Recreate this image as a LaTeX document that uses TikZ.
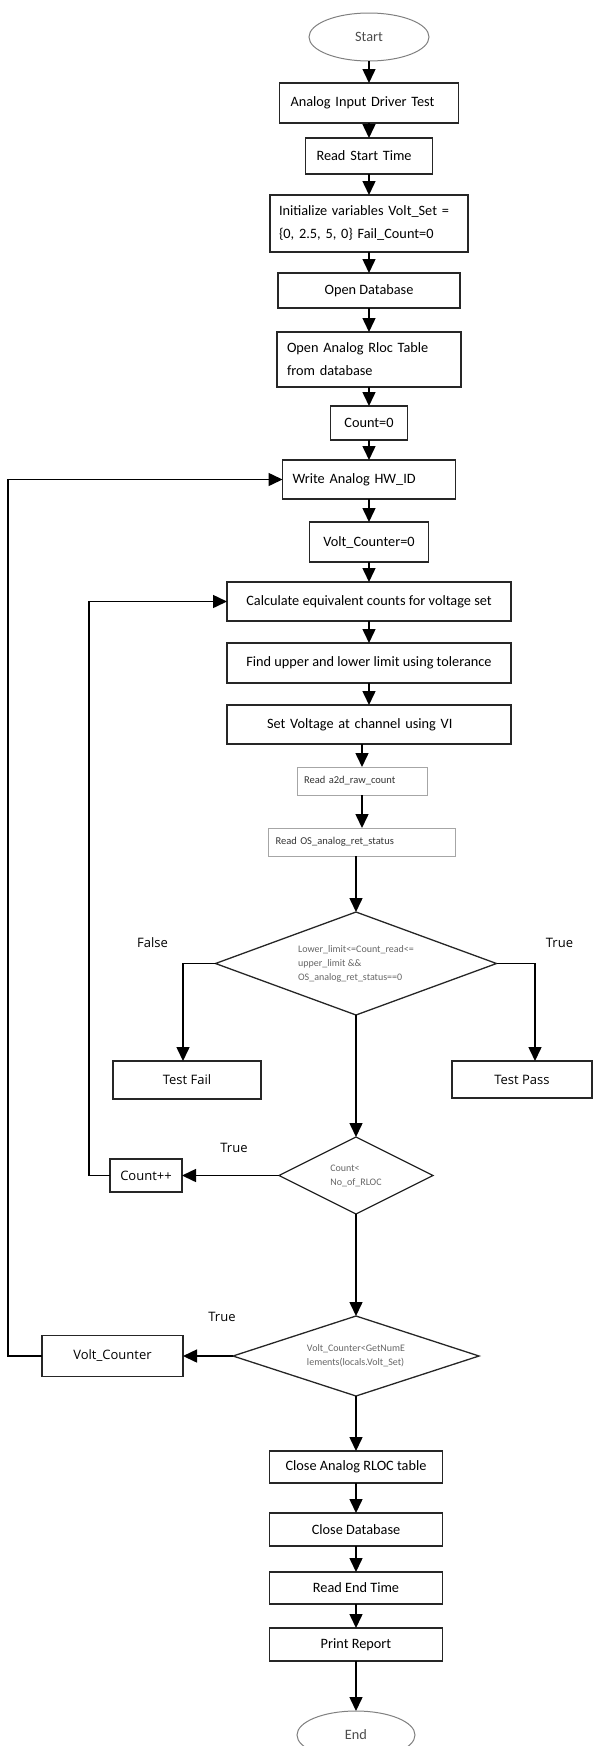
\documentclass[tikz,border=0pt]{standalone}
\usepackage{fontspec}
\usepackage{tikz}
\usetikzlibrary{positioning, shapes.geometric, arrows.meta}
\newfontfamily\calibri{Carlito}
\newfontfamily\segoe{Open Sans}
\newcommand{\boxfont}{\calibri\fontsize{14.3pt}{23pt}\selectfont}
\newcommand{\smallfont}{\calibri\fontsize{10.5pt}{14pt}\selectfont}
\newcommand{\condfont}{\calibri\fontsize{10pt}{14pt}\selectfont}
\newcommand{\labelfont}{\segoe\fontsize{13pt}{16pt}\selectfont}
\tikzset{
	edge/.style={line width=1.5pt, -{Triangle[width=13pt,length=14pt]}},
	box/.style={
		rectangle,
		draw=black!85,
		line width=1.6pt,
		inner sep=0pt,
		outer sep=0pt,
		font=\boxfont,
		align=center
	},
	thin box/.style={
		rectangle,
		draw=black!35,
		line width=1pt,
		inner sep=0pt,
		outer sep=0pt,
		font=\smallfont,
		text=black!80,
		align=left
	},
	terminal/.style={
		ellipse,
		draw=black!50,
		line width=1pt,
		minimum width=120pt,
		minimum height=48pt,
		outer sep=0pt,
		font=\boxfont,
		text=black!70
	},
	decision/.style={
		diamond,
		draw=black!85,
		line width=1.3pt,
		inner sep=0pt,
		outer sep=0pt,
		font=\condfont,
		text=black!60,
		align=left
	},
	side box/.style={box, font=\labelfont},
	branch label/.style={font=\labelfont}
}

\begin{document}
\begin{tikzpicture}[x=1pt, y=1pt]
	\useasboundingbox (0,0) rectangle (593,-1746);

	\node[terminal] (start) at (369,-37) {Start};

	\node[box, minimum width=179pt, minimum height=40pt, text width=157pt, align=left, below=22pt of start] (drvtest) {Analog Input Driver Test};
	\draw[edge] (start) -- (drvtest);

	\node[box, minimum width=127pt, minimum height=36pt, text width=105pt, align=left, below=15pt of drvtest] (rdstart) {Read Start Time};
	\draw[edge] (drvtest) -- (rdstart);

	\node[box, minimum width=198pt, minimum height=57pt, text width=180pt, align=left, below=21pt of rdstart] (init) {Initialize variables Volt\_Set =\\\{0, 2.5, 5, 0\} Fail\_Count=0};
	\draw[edge] (rdstart) -- (init);

	\node[box, minimum width=182pt, minimum height=35pt, below=21pt of init] (opendb) {Open Database};
	\draw[edge] (init) -- (opendb);

	\node[box, minimum width=184pt, minimum height=55pt, text width=164pt, align=left, below=24pt of opendb] (openrloc) {Open Analog Rloc Table\\from database};
	\draw[edge] (opendb) -- (openrloc);

	\node[box, minimum width=77pt, minimum height=34pt, below=19pt of openrloc] (count0) {Count=0};
	\draw[edge] (openrloc) -- (count0);

	\node[box, minimum width=173pt, minimum height=39pt, text width=153pt, align=left, below=20pt of count0] (wrhwid) {Write Analog HW\_ID};
	\draw[edge] (count0) -- (wrhwid);

	\node[box, minimum width=119pt, minimum height=40pt, below=23pt of wrhwid] (volt0) {Volt\_Counter=0};
	\draw[edge] (wrhwid) -- (volt0);

	\node[box, minimum width=284pt, minimum height=39pt, below=20pt of volt0] (calc) {Calculate equivalent counts for voltage set};
	\draw[edge] (volt0) -- (calc);

	\node[box, minimum width=284pt, minimum height=40pt, below=22pt of calc] (limits) {Find upper and lower limit using tolerance};
	\draw[edge] (calc) -- (limits);

	\node[box, minimum width=284pt, minimum height=39pt, text width=204pt, align=left, below=22pt of limits] (setvolt) {Set Voltage at channel using VI};
	\draw[edge] (limits) -- (setvolt);

	\node[thin box, minimum width=130pt, minimum height=28pt, text width=116pt, below=23pt of setvolt, xshift=-7pt] (rda2d) {Read a2d\_raw\_count};
	\draw[edge] (rda2d.north |- setvolt.south) -- (rda2d.north);

	\node[thin box, minimum width=187pt, minimum height=28pt, text width=173pt, below=33pt of rda2d] (rdos) {Read OS\_analog\_ret\_status};
	\draw[edge] (rda2d) -- (rdos);

	\node[decision, aspect=2.7, minimum width=281pt, minimum height=103pt, below=56pt of rdos, xshift=-6pt] (chk) {Lower\_limit<=Count\_read<=\\upper\_limit \&\&\\OS\_analog\_ret\_status==0};
	\draw[edge] (chk.north |- rdos.south) -- (chk.north);

	\node[side box, minimum width=148pt, minimum height=38pt, below=46pt of chk, xshift=-169pt] (fail) {Test Fail};
	\draw[edge] (chk.west) -| ([xshift=-4pt]fail.north);
	\node[branch label] (falselbl) at ([xshift=-63pt, yshift=21pt]chk.west) {False};

	\node[side box, minimum width=140pt, minimum height=37pt, below=46pt of chk, xshift=166pt] (pass) {Test Pass};
	\draw[edge] (chk.east) -| ([xshift=13pt]pass.north);
	\node[branch label] (truelbl) at ([xshift=63pt, yshift=21pt]chk.east) {True};

	\node[decision, aspect=2, minimum width=154pt, minimum height=77pt, below=122pt of chk] (cntchk) {Count<\\No\_of\_RLOC};
	\draw[edge] (chk.south) -- (cntchk.north);

	\node[side box, minimum width=72pt, minimum height=33pt, left=97pt of cntchk] (cntinc) {Count++};
	\draw[edge] (cntchk.west) -- (cntinc.east);
	\draw[edge] (cntinc.west) -- ++(-21,0) |- (calc.west);
	\node[branch label] (cntlbl) at ([xshift=-45pt, yshift=28pt]cntchk.west) {True};

	\node[decision, aspect=3, minimum width=246pt, minimum height=80pt, below=102pt of cntchk] (voltchk) {Volt\_Counter<GetNumE\\lements(locals.Volt\_Set)};
	\draw[edge] (cntchk.south) -- (voltchk.north);

	\node[side box, minimum width=141pt, minimum height=41pt, left=50pt of voltchk] (voltinc) {Volt\_Counter};
	\draw[edge] (voltchk.west) -- (voltinc.east);
	\draw[edge] (voltinc.west) -- ++(-34,0) |- (wrhwid.west);
	\node[branch label] (voltlbl) at ([xshift=-11pt, yshift=39pt]voltchk.west) {True};

	\node[box, minimum width=173pt, minimum height=32pt, below=55pt of voltchk] (closerloc) {Close Analog RLOC table};
	\draw[edge] (voltchk.south) -- (closerloc.north);

	\node[box, minimum width=173pt, minimum height=33pt, below=30pt of closerloc] (closedb) {Close Database};
	\draw[edge] (closerloc) -- (closedb);

	\node[box, minimum width=173pt, minimum height=32pt, below=26pt of closedb] (rdend) {Read End Time};
	\draw[edge] (closedb) -- (rdend);

	\node[box, minimum width=173pt, minimum height=33pt, below=24pt of rdend] (report) {Print Report};
	\draw[edge] (rdend) -- (report);

	\node[terminal, minimum width=118pt, below=50pt of report] (end) {End};
	\draw[edge] (report) -- (end);
\end{tikzpicture}
\end{document}
